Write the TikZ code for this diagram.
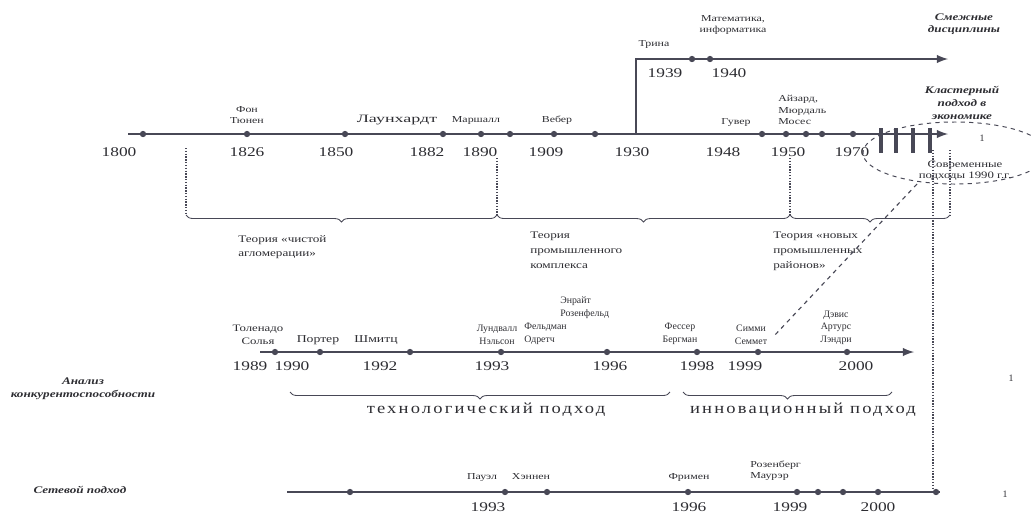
\documentclass[tikz,border=0pt]{standalone}
\usepackage{fontspec}
\setmainfont{Liberation Serif}
\newfontfamily\wser[FakeStretch=1.3]{Liberation Serif}
\newfontfamily\xwser[FakeStretch=1.6]{Liberation Serif}
\newfontfamily\wsp[FakeStretch=1.2,LetterSpace=14]{Liberation Serif}
\usetikzlibrary{decorations.pathreplacing,shapes.geometric}
\definecolor{ink}{RGB}{72,72,86}
\definecolor{txt}{RGB}{45,45,50}
\tikzset{
  tline/.style={line width=1.7pt, ink},
  pt/.style={circle, fill=ink, inner sep=0pt, minimum size=4.5pt},
  yr/.style={font=\wser\fontsize{9.5}{10}\selectfont, text=txt, inner sep=0pt},
  nm/.style={font=\fontsize{7}{9}\selectfont, text=txt, align=center, inner sep=0pt},
  nmt/.style={font=\wser\fontsize{6.5}{8}\selectfont, text=txt, align=center, inner sep=0pt},
  ttl/.style={font=\wser\fontsize{7.2}{9}\bfseries\itshape\selectfont, text=txt, align=center, inner sep=0pt},
  thy/.style={font=\wser\fontsize{7.2}{10.5}\selectfont, text=txt, align=left, anchor=north west, inner sep=0pt},
  appr/.style={font=\wsp\fontsize{11}{11}\selectfont, text=txt, inner sep=0pt},
  dotline/.style={ink, line width=1pt, densely dotted},
  brc/.style={ink, line width=0.6pt, decorate, decoration={brace, mirror, amplitude=5pt}},
}
\begin{document}
\begin{tikzpicture}[x=0.025cm,y=-0.025cm,>=latex]
\useasboundingbox (0,0) rectangle (1031,516);
% верхняя шкала
\coordinate (m0) at (128,134);
\coordinate (m1) at (948,134);
\coordinate (br) at (636,134);
\coordinate (u1) at (948,59);
\draw[tline,->] (m0) -- (m1);
\draw[tline,->] (br) |- (u1);
\foreach \x/\n in {143/a,247/b,345/c,443/d,481/e,510/f,554/g,595/h,762/i,786/j,806/k,822/l,853/m}
  \node[pt] (t\n) at (\x,134) {};
\foreach \x/\n in {692/a,710/b}
  \node[pt] (s\n) at (\x,59) {};
\foreach \x in {881,896,913,930}
  \draw[ink, line width=3.2pt] (\x,128) -- (\x,153);
\foreach \x/\t in {119/1800,247/1826,336/1850,427/1882,480/1890,546/1909,632/1930,723/1948,788/1950,852/1970}
  \node[yr] (y\t) at (\x,152) {\t};
\node[yr] (y1939) at (665,73) {1939};
\node[yr] (y1940) at (729,73) {1940};
\node[nmt] (tuenen) at (247,115) {Фон\\Тюнен};
\node[nmt, font=\xwser\fontsize{8}{8}\selectfont] (launh) at (397,120) {Лаунхардт};
\node[nmt] (marsh) at (476,120) {Маршалл};
\node[nmt] (weber) at (557,120) {Вебер};
\node[nmt] (trina) at (654,44) {Трина};
\node[nmt] (math) at (733,25) {Математика,\\информатика};
\node[nmt] (guver) at (736,122) {Гувер};
\node[nmt, align=left, anchor=west] (izard) at (778,110) {Айзард,\\Мюрдаль\\Мосес};
\node[ttl] (smezh) at (964,24) {Смежные\\дисциплины};
\node[ttl] (klast) at (962,103) {Кластерный\\подход в\\экономике};
\node[nm] (one1) at (982,138) {1};
\node[ellipse, draw=ink, dashed, line width=0.7pt, minimum width=4.6cm, minimum height=1.55cm] (mod) at (955,153) {};
\node[nmt, font=\wser\fontsize{7}{8}\selectfont] (sovr) at (965,171) {Современные\\подходы 1990 г.г.};
% пунктиры и скобки
\foreach \x/\a/\b/\n in {186/148/215/p1,497/158/215/p2,790/158/215/p3,950/150/215/p4}{
  \coordinate (\n a) at (\x,\a);
  \coordinate (\n b) at (\x,\b);
  \draw[dotline] (\n a) -- (\n b);
}
\draw[brc] (p1b) -- (p2b);
\draw[brc] (p2b) -- (p3b);
\draw[brc] (p3b) -- (p4b);
\node[thy] (pure) at (238,235) {Теория «чистой\\агломерации»};
\node[thy] (prom) at (530,232) {Теория\\промышленного\\комплекса};
\node[thy] (novy) at (773,232) {Теория «новых\\промышленных\\районов»};
\coordinate (la) at (933,150);
\coordinate (lb) at (933,489);
\draw[dotline] (la) -- (lb);
\coordinate (da) at (917,184);
\coordinate (db) at (774,336);
\draw[ink, dashed, line width=0.8pt] (da) -- (db);
% средняя шкала
\coordinate (c0) at (260,352);
\coordinate (c1) at (914,352);
\draw[tline,->] (c0) -- (c1);
\foreach \x/\n in {275/a,320/b,410/c,501/d,607/e,697/f,758/g,847/h}
  \node[pt] (k\n) at (\x,352) {};
\foreach \x/\t in {250/1989,292/1990,380/1992,492/1993,610/1996,697/1998,745/1999,856/2000}
  \node[yr] (z\t) at (\x,366) {\t};
\node[nm, anchor=south, font=\wser\fontsize{7}{9}\selectfont] (toled) at (258,345) {Толенадо\\Солья};
\node[nmt, font=\wser\fontsize{7.5}{8}\selectfont, anchor=south] (porter) at (318,345) {Портер};
\node[nmt, font=\wser\fontsize{7.5}{8}\selectfont, anchor=south] (shmitz) at (376,345) {Шмитц};
\node[nm, anchor=south] (lundv) at (497,345) {Лундвалл\\Нэльсон};
\node[nm, anchor=south west, align=left] (enrait) at (560,319) {Энрайт\\Розенфельд};
\node[nm, anchor=south west, align=left] (feldm) at (524,345) {Фельдман\\Одретч};
\node[nm, anchor=south] (fesser) at (680,345) {Фессер\\Бергман};
\node[nm, anchor=south] (simmi) at (751,345) {Симми\\Семмет};
\node[nm, anchor=south] (davis) at (836,345) {Дэвис\\Артурс\\Лэндри};
\node[ttl] (konk) at (83,389) {Анализ\\конкурентоспособности};
\coordinate (q1) at (290,392);
\coordinate (q2) at (670,392);
\coordinate (q3) at (683,392);
\coordinate (q4) at (892,392);
\draw[brc] (q1) -- (q2);
\draw[brc] (q3) -- (q4);
\node[appr] (tech) at (486,410) {технологический подход};
\node[appr] (innov) at (803,410) {инновационный подход};
\node[nm] (one2) at (1011,378) {1};
% нижняя шкала
\coordinate (b0) at (287,492);
\coordinate (b1) at (940,492);
\draw[tline] (b0) -- (b1);
\foreach \x/\n in {350/a,505/b,547/c,688/d,797/e,818/f,843/g,878/h,936/i}
  \node[pt] (n\n) at (\x,492) {};
\foreach \x/\t in {488/1993,689/1996,790/1999,878/2000}
  \node[yr] (w\t) at (\x,507) {\t};
\node[nmt] (pauel) at (482,477) {Пауэл};
\node[nmt] (hennen) at (531,477) {Хэннен};
\node[nmt] (frimen) at (689,477) {Фримен};
\node[nmt, align=left, anchor=west] (rozen) at (750,471) {Розенберг\\Маурэр};
\node[ttl] (set) at (80,490) {Сетевой подход};
\node[nm] (one3) at (1005,494) {1};
\end{tikzpicture}
\end{document}
